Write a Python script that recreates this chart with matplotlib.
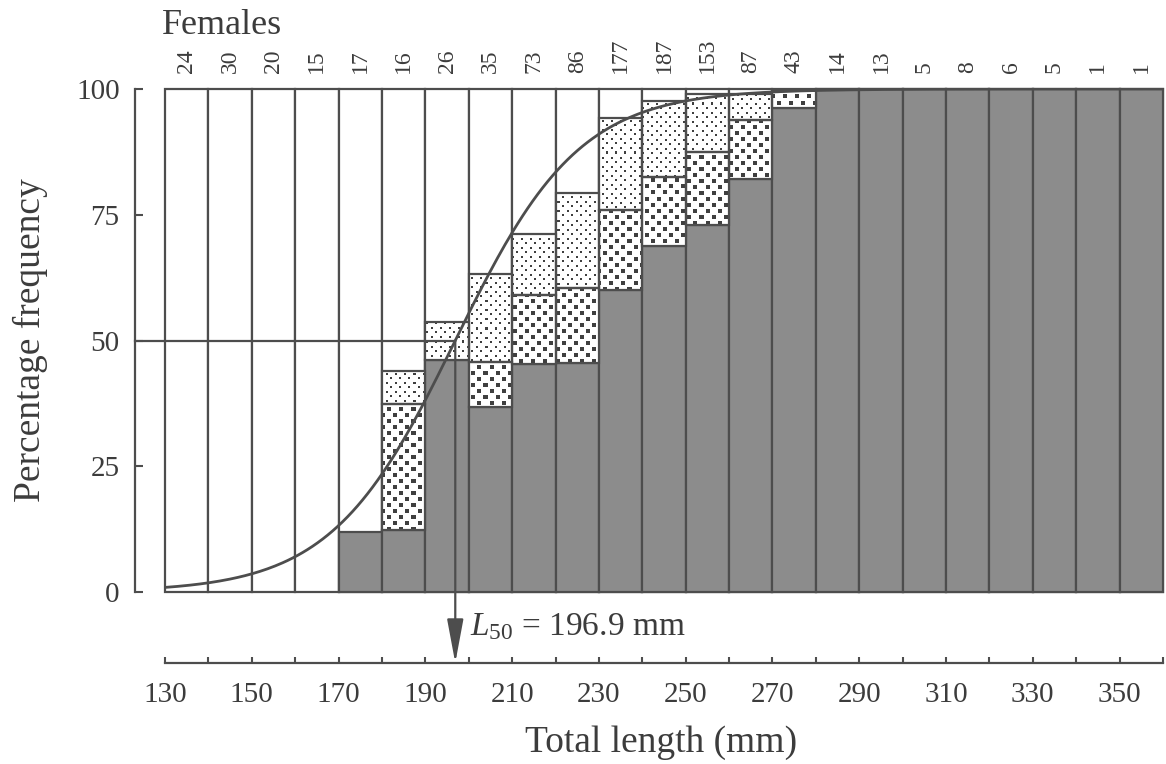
#!/usr/bin/env python3

import numpy as np
import matplotlib
matplotlib.use('Agg')
import matplotlib.pyplot as plt

# 10 mm length classes (left edge of each class)
length_bins = [130, 140, 150, 160, 170, 180, 190, 200, 210, 220, 230, 240,
               250, 260, 270, 280, 290, 300, 310, 320, 330, 340, 350]
# sample size per class (printed above the bars)
counts = [24, 30, 20, 15, 17, 16, 26, 35, 73, 86, 177, 187, 153, 87, 43,
          14, 13, 5, 8, 6, 5, 1, 1]
# percentages of each maturity stage, stacked from the bottom
pct_mature = [0, 0, 0, 0, 11.9, 12.4, 46.1, 36.8, 45.3, 45.5, 60.0, 68.7,
              73.0, 82.2, 96.2, 100, 100, 100, 100, 100, 100, 100, 100]
pct_squares = [0, 0, 0, 0, 0, 25.0, 0, 8.9, 13.7, 14.9, 15.9, 13.9,
               14.4, 11.6, 3.6, 0, 0, 0, 0, 0, 0, 0, 0]
pct_dots = [0, 0, 0, 0, 0, 6.5, 7.6, 17.5, 12.1, 19.0, 18.4, 15.1,
            11.7, 5.3, 0, 0, 0, 0, 0, 0, 0, 0, 0]

# fitted logistic ogive
L50 = 196.9
slope = 0.07

x_labels = [130, 150, 170, 190, 210, 230, 250, 270, 290, 310, 330, 350]
y_ticks = [0, 25, 50, 75, 100]

BIN_W = 10
LINE = '#4d4d4d'
TEXT = '#3c3c3c'
GRAY = '#8c8c8c'

plt.rcParams['font.family'] = ['Liberation Serif', 'DejaVu Serif']
plt.rcParams['mathtext.fontset'] = 'custom'
plt.rcParams['mathtext.rm'] = 'Liberation Serif'
plt.rcParams['mathtext.it'] = 'Liberation Serif:italic'
plt.rcParams['text.color'] = TEXT


def make_texture(h, w, size, period):
    # white tile with dark staggered square dots
    yy, xx = np.mgrid[0:h, 0:w]
    a = ((xx % period) < size) & ((yy % period) < size)
    half = period // 2
    b = (((xx + half) % period) < size) & (((yy + half) % period) < size)
    img = np.ones((h, w, 3))
    img[a | b] = 0.25
    return img


def textured_bars(ax, x, heights, bottoms, texture, extent):
    bars = ax.bar(x, heights, width=BIN_W, bottom=bottoms, align='edge',
                  facecolor='white', edgecolor='none', zorder=2,
                  clip_on=False)
    for patch, h in zip(bars.patches, heights):
        if h <= 0:
            continue
        im = ax.imshow(texture, extent=extent, aspect='auto',
                       interpolation='nearest', zorder=2.2)
        im.set_clip_path(patch)
    outline = [h if h > 0 else np.nan for h in heights]
    ax.bar(x, outline, width=BIN_W, bottom=bottoms, align='edge',
           facecolor='none', edgecolor=LINE, linewidth=1.6, zorder=3,
           clip_on=False)


def main():
    fig = plt.figure(figsize=(11.66, 7.64), dpi=100)
    ax = fig.add_axes([0.1415, 0.2251, 0.8559, 0.6584])

    x = np.array(length_bins)
    mature = np.array(pct_mature)
    squares = np.array(pct_squares)
    dots = np.array(pct_dots)

    xmin, xmax = length_bins[0], length_bins[-1] + BIN_W
    extent = (xmin, xmax, 0, 100)

    # empty class frames
    ax.bar(x, [100] * len(x), width=BIN_W, align='edge', facecolor='white',
           edgecolor=LINE, linewidth=1.6, zorder=1, clip_on=False)

    # mature part
    m_h = [h if h > 0 else np.nan for h in mature]
    ax.bar(x, m_h, width=BIN_W, align='edge', facecolor=GRAY,
           edgecolor=LINE, linewidth=1.6, zorder=2, clip_on=False)

    tex_sq = make_texture(503, 998, 4, 12)
    tex_dot = make_texture(503, 998, 2, 9)
    textured_bars(ax, x, squares, mature, tex_sq, extent)
    textured_bars(ax, x, dots, mature + squares, tex_dot, extent)

    # logistic curve
    xs = np.linspace(xmin, xmax, 400)
    ys = 100.0 / (1.0 + np.exp(-slope * (xs - L50)))
    ax.plot(xs, ys, color=LINE, linewidth=2, zorder=5)

    ax.set_xlim(xmin, xmax)
    ax.set_ylim(0, 100)

    # 50 % line and arrow to L50
    l50_frac = (L50 - xmin) / (xmax - xmin)
    ax.plot([-0.03, l50_frac], [50, 50], color=LINE, linewidth=1.6,
            transform=ax.get_yaxis_transform(), clip_on=False, zorder=5)
    ax.annotate('', xy=(L50, -0.141), xycoords=('data', 'axes fraction'),
                xytext=(L50, 50), textcoords='data', annotation_clip=False,
                arrowprops=dict(arrowstyle='-|>,head_length=1.5,head_width=0.28',
                                mutation_scale=18, color=LINE, linewidth=1.6,
                                shrinkA=0, shrinkB=0), zorder=5)
    ax.text(200.3, -0.07, r'$\mathit{L}_{\mathit{50}}$ = 196.9 mm',
            transform=ax.get_xaxis_transform(), fontsize=24, ha='left',
            va='center')

    # counts above bars
    for xi, n in zip(length_bins, counts):
        ax.text(xi + BIN_W / 2, 1.032, str(n), rotation=90, ha='center',
                va='bottom', fontsize=17, transform=ax.get_xaxis_transform())
    ax.text(-0.003, 1.127, 'Females', transform=ax.transAxes, fontsize=26,
            ha='left', va='center')

    # axes styling
    for side in ['top', 'right']:
        ax.spines[side].set_visible(False)
    ax.spines['left'].set_position(('outward', 21.6))
    ax.spines['bottom'].set_position(('outward', 51.1))
    ax.spines['left'].set_color(LINE)
    ax.spines['bottom'].set_color(LINE)
    ax.spines['left'].set_linewidth(1.6)
    ax.spines['bottom'].set_linewidth(1.6)

    ax.set_yticks(y_ticks)
    ax.set_yticklabels([str(v) for v in y_ticks])
    ax.set_xticks(x_labels)
    ax.set_xticklabels([str(v) for v in x_labels])
    ax.set_xticks([v for v in range(xmin, xmax + 1, BIN_W)
                   if v not in x_labels], minor=True)
    ax.tick_params(axis='y', direction='in', length=6, width=1.5,
                   color=LINE, labelsize=21, labelcolor=TEXT, pad=11)
    ax.tick_params(axis='x', which='both', direction='in', length=4,
                   width=1.5, color=LINE, labelsize=21, labelcolor=TEXT,
                   pad=14)

    ax.text(-0.135, 0.5, 'Percentage frequency', rotation=90,
            transform=ax.transAxes, ha='center', va='center', fontsize=27)
    ax.text(0.497, -0.300, 'Total length (mm)', transform=ax.transAxes,
            ha='center', va='center', fontsize=27)

    fig.savefig('out.png', dpi=100)


if __name__ == '__main__':
    main()
